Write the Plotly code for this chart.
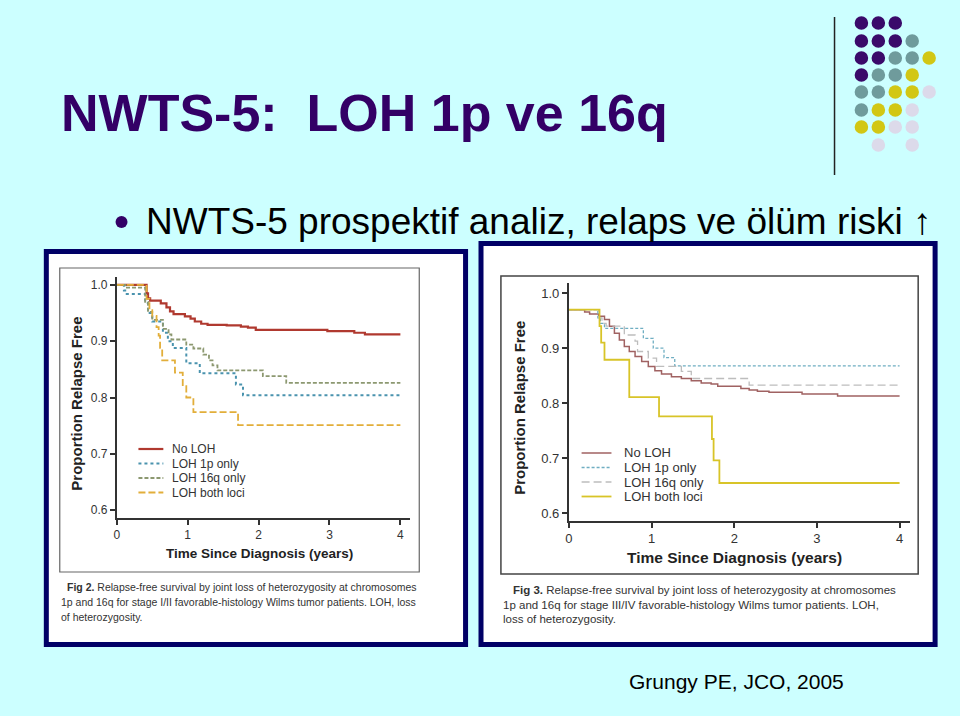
import plotly.graph_objects as go

W, H = 960, 716


def X(px):
    return px / W


def Y(py):
    return 1 - py / H


# ---------------- data ----------------
series_names = ["No LOH", "LOH 1p only", "LOH 16q only", "LOH both loci"]
x_ticks = [0, 1, 2, 3, 4]
x_tick_labels = ["0", "1", "2", "3", "4"]
y_ticks = [0.6, 0.7, 0.8, 0.9, 1.0]
y_tick_labels = ["0.6", "0.7", "0.8", "0.9", "1.0"]

# Fig 2 (stage I/II)
left_noloh_t = [0, 0.42, 0.44, 0.47, 0.62, 0.70, 0.75, 0.80, 0.96, 1.04, 1.10, 1.19, 1.28, 1.55, 1.75, 1.85, 1.96, 2.97, 3.35, 3.50, 4.0]
left_noloh_s = [1.0, 0.985, 0.976, 0.972, 0.967, 0.960, 0.953, 0.948, 0.944, 0.940, 0.935, 0.931, 0.929, 0.928, 0.926, 0.924, 0.920, 0.918, 0.915, 0.912, 0.912]
left_1p_t = [0, 0.10, 0.14, 0.40, 0.44, 0.50, 0.65, 0.72, 0.79, 0.98, 1.17, 1.68, 1.78, 4.0]
left_1p_s = [1.0, 0.99, 0.984, 0.968, 0.950, 0.935, 0.915, 0.900, 0.888, 0.861, 0.843, 0.823, 0.804, 0.804]
left_16q_t = [0, 0.12, 0.40, 0.44, 0.50, 0.65, 0.73, 0.77, 0.98, 1.08, 1.22, 1.30, 1.35, 1.42, 2.06, 2.39, 4.0]
left_16q_s = [1.0, 0.995, 0.97, 0.952, 0.938, 0.922, 0.912, 0.903, 0.894, 0.887, 0.876, 0.866, 0.857, 0.848, 0.838, 0.826, 0.826]
left_both_t = [0, 0.42, 0.46, 0.50, 0.56, 0.59, 0.61, 0.64, 0.82, 0.93, 0.98, 1.08, 1.71, 4.0]
left_both_s = [1.0, 0.975, 0.955, 0.945, 0.925, 0.910, 0.888, 0.866, 0.844, 0.820, 0.800, 0.774, 0.751, 0.751]

# Fig 3 (stage III/IV)
right_noloh_t = [0, 0.19, 0.25, 0.36, 0.43, 0.49, 0.55, 0.61, 0.67, 0.73, 0.80, 0.88, 0.96, 1.04, 1.12, 1.24, 1.36, 1.48, 1.60, 1.72, 1.80, 2.08, 2.18, 2.28, 2.42, 2.82, 3.25, 4.0]
right_noloh_s = [0.97, 0.966, 0.962, 0.958, 0.952, 0.940, 0.927, 0.915, 0.903, 0.894, 0.885, 0.876, 0.867, 0.859, 0.853, 0.848, 0.845, 0.841, 0.837, 0.835, 0.831, 0.827, 0.824, 0.822, 0.820, 0.817, 0.813, 0.813]
right_1p_t = [0, 0.35, 0.38, 0.43, 0.90, 1.02, 1.15, 1.28, 4.0]
right_1p_s = [0.97, 0.955, 0.945, 0.936, 0.918, 0.900, 0.883, 0.868, 0.868]
right_16q_t = [0, 0.36, 0.40, 0.45, 0.67, 0.80, 0.83, 0.96, 1.06, 1.36, 1.48, 2.18, 4.0]
right_16q_s = [0.97, 0.955, 0.945, 0.940, 0.924, 0.913, 0.894, 0.882, 0.867, 0.858, 0.845, 0.833, 0.833]
right_both_t = [0, 0.37, 0.39, 0.43, 0.73, 1.09, 1.73, 1.75, 1.82, 4.0]
right_both_s = [0.97, 0.94, 0.91, 0.879, 0.811, 0.776, 0.735, 0.696, 0.655, 0.655]

# texts
title_text = "NWTS-5:  LOH 1p ve 16q"
bullet_text = "NWTS-5 prospektif analiz, relaps ve ölüm riski ↑"
y_title = "Proportion Relapse Free"
x_title = "Time Since Diagnosis (years)"
left_caption = [
    "<b>Fig 2.</b> Relapse-free survival by joint loss of heterozygosity at chromosomes",
    "1p and 16q for stage I/II favorable-histology Wilms tumor patients. LOH, loss",
    "of heterozygosity.",
]
right_caption = [
    "<b>Fig 3.</b> Relapse-free survival by joint loss of heterozygosity at chromosomes",
    "1p and 16q for stage III/IV favorable-histology Wilms tumor patients. LOH,",
    "loss of heterozygosity.",
]
citation = "Grungy PE, JCO, 2005"

# decorative dot grid colours (rows top to bottom)
P, G, Yc, L = "#3A0A6A", "#6F9B9C", "#D2C714", "#DCDAEA"
dot_rows = [
    [P, P, P, None, None],
    [P, P, P, G, None],
    [P, P, G, G, Yc],
    [P, G, G, Yc, None],
    [G, G, Yc, Yc, L],
    [G, Yc, Yc, L, None],
    [Yc, Yc, L, L, None],
    [None, L, None, L, None],
]

# ---------------- styles ----------------
NAVY = "#000066"
PURPLE = "#330066"
SANS = "Liberation Sans, Arial, sans-serif"

left_styles = [
    ("#B0392F", "solid", 2.2),
    ("#4A93AE", "dot", 2.0),
    ("#8C9870", "4px,2px", 1.8),
    ("#E2AE3A", "7px,3px", 1.8),
]
right_styles = [
    ("#A06262", "solid", 1.5),
    ("#6FAEC2", "3px,2px", 1.3),
    ("#BDBDBD", "8px,4px", 1.3),
    ("#D8C428", "solid", 1.8),
]

fig = go.Figure()

left_data = [(left_noloh_t, left_noloh_s), (left_1p_t, left_1p_s), (left_16q_t, left_16q_s), (left_both_t, left_both_s)]
right_data = [(right_noloh_t, right_noloh_s), (right_1p_t, right_1p_s), (right_16q_t, right_16q_s), (right_both_t, right_both_s)]

for name, (t, s), (c, d, w) in zip(series_names, left_data, left_styles):
    fig.add_trace(go.Scatter(x=t, y=s, mode="lines", name=name,
                             line=dict(shape="hv", color=c, dash=d, width=w),
                             xaxis="x", yaxis="y", showlegend=False, hoverinfo="skip"))
for name, (t, s), (c, d, w) in zip(series_names, right_data, right_styles):
    fig.add_trace(go.Scatter(x=t, y=s, mode="lines", name=name,
                             line=dict(shape="hv", color=c, dash=d, width=w),
                             xaxis="x2", yaxis="y2", showlegend=False, hoverinfo="skip"))

shapes = []
annotations = []


def text(px, py, s, size, color="black", xanchor="left", family=SANS, angle=0):
    annotations.append(dict(x=X(px), y=Y(py), xref="paper", yref="paper", text=s,
                            showarrow=False, xanchor=xanchor, yanchor="middle",
                            textangle=angle, borderpad=0,
                            font=dict(size=size, color=color, family=family)))


# panels (navy frames, white inside)
shapes.append(dict(type="rect", xref="paper", yref="paper", layer="below",
                   x0=X(42.5), x1=X(463.5), y0=Y(644.5), y1=Y(251.5),
                   line=dict(color=NAVY, width=5), fillcolor="white"))
shapes.append(dict(type="rect", xref="paper", yref="paper", layer="below",
                   x0=X(479), x1=X(935), y0=Y(644.5), y1=Y(243.5),
                   line=dict(color=NAVY, width=5), fillcolor="white"))
# thin gray figure frames
shapes.append(dict(type="rect", xref="paper", yref="paper", layer="below",
                   x0=X(56), x1=X(417), y0=Y(572), y1=Y(268),
                   line=dict(color="#666666", width=1.2), fillcolor="white"))
shapes.append(dict(type="rect", xref="paper", yref="paper", layer="below",
                   x0=X(499), x1=X(918), y0=Y(574), y1=Y(276),
                   line=dict(color="#444444", width=1.5), fillcolor="white"))

# vertical decorative line
shapes.append(dict(type="line", xref="paper", yref="paper",
                   x0=X(834), x1=X(834), y0=Y(17), y1=Y(175),
                   line=dict(color="#222222", width=1.5)))
# dot grid
col_x = [861, 878, 895, 912, 929]
row_y = [23, 41, 58, 75, 92, 110, 127, 145]
r = 6.8
for ri, row in enumerate(dot_rows):
    for ci, col in enumerate(row):
        if col is None:
            continue
        cx, cy = col_x[ci], row_y[ri]
        shapes.append(dict(type="circle", xref="paper", yref="paper",
                           x0=X(cx - r), x1=X(cx + r), y0=Y(cy + r), y1=Y(cy - r),
                           fillcolor=col, line=dict(width=0)))
# bullet dot
shapes.append(dict(type="circle", xref="paper", yref="paper",
                   x0=X(112), x1=X(124), y0=Y(228), y1=Y(216),
                   fillcolor=PURPLE, line=dict(width=0)))

# legends (compact, drawn as keys beside labels)
legend_sets = [
    (left_styles, 135, 160, 168, [449, 463.5, 478, 492.5], 12),
    (right_styles, 580, 610, 622, [453, 467.5, 482, 496.5], 13),
]
for styles, lx0, lx1, tx, rows, fs in legend_sets:
    for name, (c, d, w), ry in zip(series_names, styles, rows):
        shapes.append(dict(type="line", xref="paper", yref="paper",
                           x0=X(lx0), x1=X(lx1), y0=Y(ry), y1=Y(ry),
                           line=dict(color=c, dash=d, width=w)))
        text(tx, ry, name, fs, "#333")

text(56, 113, "<b>" + title_text + "</b>", 52, PURPLE)
text(142, 221, bullet_text, 37, "black")
text(627, 681, citation, 21, "black")

# axis titles
text(72, 404, "<b>" + y_title + "</b>", 15, "#222", "center", SANS, -90)
text(257, 553, "<b>" + x_title + "</b>", 13.5, "#222", "center", SANS)
text(518, 408, "<b>" + y_title + "</b>", 15, "#222", "center", SANS, -90)
text(734, 557, "<b>" + x_title + "</b>", 15.5, "#222", "center", SANS)

for i, line in enumerate(left_caption):
    text(62 if i == 0 else 56, 587 + 15 * i, line, 10.5, "#333", "left", SANS)
for i, line in enumerate(right_caption):
    text(510 if i == 0 else 500, 590 + 14.5 * i, line, 11.5, "#333", "left", SANS)

axis_common = dict(showgrid=False, zeroline=False, showline=True, ticks="outside",
                   ticklen=5, tickwidth=1.5, tickcolor="#333", linecolor="#333",
                   linewidth=2, fixedrange=True)

fig.update_layout(
    width=W, height=H,
    margin=dict(l=0, r=0, t=0, b=0),
    paper_bgcolor="#CCFFFF",
    plot_bgcolor="rgba(0,0,0,0)",
    font=dict(family=SANS),
    xaxis=dict(domain=[X(113.3), X(408)], range=[0, 4.14], anchor="y",
               tickvals=x_ticks, ticktext=x_tick_labels,
               tickfont=dict(size=12, color="#333"), **axis_common),
    yaxis=dict(domain=[Y(518), Y(277)], range=[0.586, 1.014], anchor="x",
               tickvals=y_ticks, ticktext=y_tick_labels,
               tickfont=dict(size=12, color="#333"), **axis_common),
    xaxis2=dict(domain=[X(567.3), X(909.3)], range=[0, 4.12], anchor="y2",
                tickvals=x_ticks, ticktext=x_tick_labels,
                tickfont=dict(size=13, color="#333"), **axis_common),
    yaxis2=dict(domain=[Y(520.7), Y(283.3)], range=[0.5865, 1.018], anchor="x2",
                tickvals=y_ticks, ticktext=y_tick_labels,
                tickfont=dict(size=13, color="#333"), **axis_common),
    shapes=shapes,
    annotations=annotations,
    showlegend=False,
)

fig.write_html("out.html", config={"displayModeBar": False},
               post_script="document.body.style.margin='0px';document.body.style.overflow='hidden';")
